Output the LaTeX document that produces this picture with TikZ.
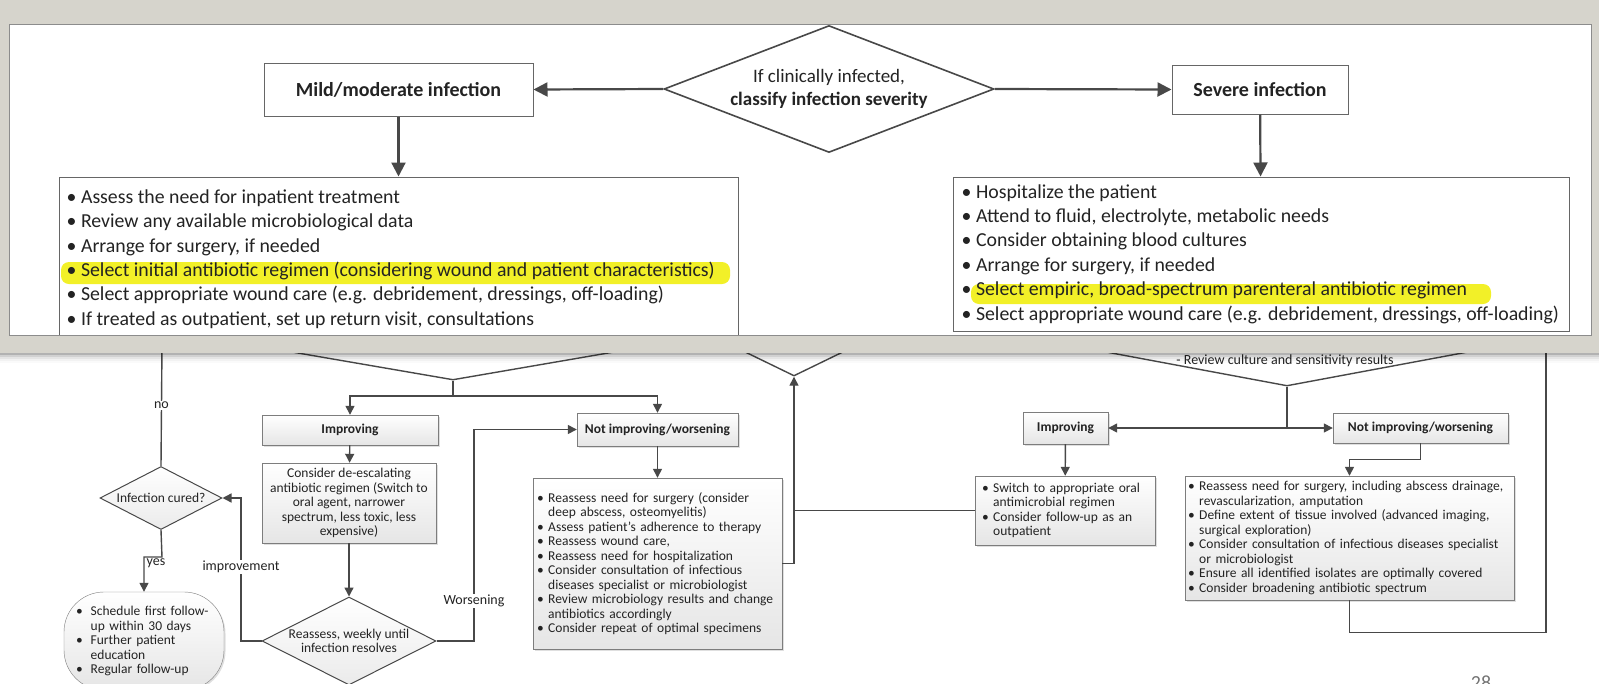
\documentclass[tikz,border=0pt]{standalone}
\usepackage{fontspec}
\setmainfont{Carlito}
\usetikzlibrary{shapes.geometric,arrows.meta,shadows}

\definecolor{lncol}{RGB}{72,72,72}
\definecolor{frmcol}{RGB}{214,212,204}
\definecolor{boxcol}{RGB}{125,125,125}
\definecolor{hlcol}{RGB}{242,240,40}
\definecolor{txtcol}{RGB}{35,35,35}

\newcommand{\smallfnt}{\fontsize{13.5}{14.5}\selectfont}
\newcommand{\bigfnt}{\fontsize{19.8}{24.4}\selectfont}
\newcommand{\blt}{\textbullet\ }
\newcommand{\bind}{\phantom{\textbullet\ }}

\begin{document}
\begin{tikzpicture}[x=1pt,y=-1pt]
	\tikzstyle{box}=[rectangle,draw=boxcol,top color=white,bottom color=black!10,drop shadow={shadow xshift=1.5pt,shadow yshift=-1.5pt,opacity=0.25},inner sep=0,text=txtcol,font=\smallfnt]
	\tikzstyle{dec}=[diamond,draw=lncol,line width=1pt,inner sep=0,aspect=2,text=txtcol,font=\smallfnt,top color=white,bottom color=black!8]
	\tikzstyle{hid}=[diamond,draw=lncol,line width=1.4pt,fill=white,inner sep=0]
	\tikzstyle{line}=[draw=lncol,line width=1.4pt]
	\tikzstyle{edge}=[line,-{Triangle[length=9pt,width=9pt]}]
	\tikzstyle{lbl}=[fill=white,inner sep=1pt,text=txtcol,font=\fontsize{14}{15}\selectfont]
	\tikzstyle{cbox}=[rectangle,draw=black!60,line width=1pt,inner sep=0,text=txtcol]
	\tikzstyle{cdia}=[diamond,draw=lncol,line width=1.6pt,fill=white,inner sep=0,aspect=2.6,text=txtcol,align=center,font=\fontsize{19}{23}\selectfont]
	\tikzstyle{cedge}=[draw=lncol,line width=2.2pt,-{Triangle[length=14pt,width=14pt]}]

	\useasboundingbox (0,0) rectangle (1599,683);

	% flowchart under the callout
	\node[hid,minimum width=694,minimum height=120] (upL) at (453,320) {};
	\node[hid,minimum width=164,minimum height=80] (upM) at (794,336) {};
	\node[hid,minimum width=598,minimum height=112] (upR) at (1287,330) {};
	\node[font=\fontsize{14}{15}\selectfont,text=txtcol] (revtxt) at (1285,361) {- Review culture and sensitivity results};

	\coordinate (splitL) at (453,396);
	\coordinate (splitR) at (1287,428);
	\coordinate (noTop) at (162,345);
	\coordinate (rTop) at (1546,345);

	\node[box,minimum width=176,minimum height=30,font=\smallfnt\bfseries] (impL) at (350,430) {Improving};
	\node[box,minimum width=161,minimum height=33,font=\smallfnt\bfseries] (notL) at (657.5,429.5) {Not improving/worsening};
	\node[box,minimum width=174,minimum height=80,align=center] (deesc) at (349,503) {Consider de-escalating\\antibiotic regimen (Switch to\\oral agent, narrower\\spectrum, less toxic, less\\expensive)};
	\node[dec,inner sep=-3pt,minimum width=174,minimum height=88,align=center] (reassL) at (349,641) {Reassess, weekly until\\infection resolves};
	\node[dec,minimum width=122,minimum height=63] (cured) at (161,498) {Infection cured?};
	\node[box,rounded corners=40,minimum width=160,minimum height=98,text width=136,align=left] (follow) at (144,641) {\textbullet\hspace{8pt}Schedule first follow-\\\phantom{\textbullet\hspace{8pt}}up within 30 days\\\textbullet\hspace{8pt}Further patient\\\phantom{\textbullet\hspace{8pt}}education\\\textbullet\hspace{8pt}Regular follow-up};
	\node[box,minimum width=249,minimum height=171,text width=241,align=left] (midL) at (657.5,563.5) {\blt Reassess need for surgery (consider\\\bind deep abscess, osteomyelitis)\\\blt Assess patient’s adherence to therapy\\\blt Reassess wound care,\\\blt Reassess need for hospitalization\\\blt Consider consultation of infectious\\\bind diseases specialist or microbiologist\\\blt Review microbiology results and change\\\bind antibiotics accordingly\\\blt Consider repeat of optimal specimens};

	\node[box,minimum width=85,minimum height=32,font=\smallfnt\bfseries] (impR) at (1065.5,428) {Improving};
	\node[box,minimum width=175,minimum height=30,font=\smallfnt\bfseries] (notR) at (1420.5,428) {Not improving/worsening};
	\node[box,minimum width=180,minimum height=69,text width=166,align=left] (switchR) at (1065,510.5) {\blt Switch to appropriate oral\\\bind antimicrobial regimen\\\blt Consider follow-up as an\\\bind outpatient};
	\node[box,minimum width=329,minimum height=124,text width=323,align=left] (bigR) at (1349.5,538) {\blt Reassess need for surgery, including abscess drainage,\\\bind revascularization, amputation\\\blt Define extent of tissue involved (advanced imaging,\\\bind surgical exploration)\\\blt Consider consultation of infectious diseases specialist\\\bind or microbiologist\\\blt Ensure all identified isolates are optimally covered\\\blt Consider broadening antibiotic spectrum};

	\draw[line] (upL.south) -- (splitL);
	\draw[edge] (splitL) -| (impL.north);
	\draw[edge] (splitL) -| (notL.north);
	\draw[edge] (impL) -- (deesc);
	\draw[edge] (deesc) -- (reassL);
	\draw[edge] (notL) -- (midL);
	\draw[edge] (reassL.west) -- (241,641) |- node[lbl,pos=0.26]{improvement} (cured.east);
	\draw[edge] (reassL.east) -- (474,641) |- node[lbl,pos=0.095]{Worsening} (notL.west);
	\draw[line] (cured.north) -- node[lbl]{no} (noTop);
	\draw[edge] (cured.south) -- (162,557) -| node[pos=0.5,xshift=12pt,yshift=-6pt,inner sep=0,text=txtcol,font=\fontsize{14}{15}\selectfont]{yes} (follow.north);
	\draw[edge] (midL.east) -| (upM.south);
	\draw[line] (switchR.west) -- (switchR.west -| upM.south);

	\draw[line] (upR.south) -- (splitR);
	\draw[edge] (splitR) -- (impR.east);
	\draw[edge] (splitR) -- (notR.west);
	\draw[edge] (impR) -- (switchR);
	\draw[edge] (notR.south) -- ++(0,16) -| (bigR.north);
	\draw[line] (bigR.south) -- ++(0,32) -| (rTop);

	\node[anchor=north,text=black!55,font=\fontsize{20}{20}\selectfont] (pgnum) at (1481,672) {28};

	% callout frame
	\fill[frmcol] (0,0) rectangle (1599,353);
	\foreach \yy/\op in {353/0.30,355/0.18,357/0.10,359/0.05,361/0.02}
		\fill[black,opacity=\op] (0,\yy) rectangle (1599,\yy+2);
	\fill[white] (9,24) rectangle (1591,335);

	\begin{scope}
		\clip (9,24) rectangle (1591,335);
		\fill[hlcol,rounded corners=8] (61,262) rectangle (730,284);
		\fill[hlcol,rounded corners=8] (971,284) rectangle (1491,304);

		\node[cdia,minimum width=330,minimum height=127] (classify) at (829,89) {If clinically infected,\\\textbf{classify infection severity}};
		\node[cbox,minimum width=269,minimum height=53,font=\fontsize{20}{22}\selectfont\bfseries] (mild) at (398.5,89.5) {Mild/moderate infection};
		\node[cbox,minimum width=176,minimum height=49,font=\fontsize{20}{22}\selectfont\bfseries] (severe) at (1260,89.5) {Severe infection};
		\node[cbox,minimum width=679,minimum height=164] (mildlist) at (398.5,259) {};
		\node[cbox,minimum width=616,minimum height=154] (sevlist) at (1261,254) {};

		\node[anchor=west,align=left,inner sep=0,text=txtcol,font=\bigfnt] (mildtxt) at ([xshift=8pt]mildlist.west) {\blt Assess the need for inpatient treatment\\\blt Review any available microbiological data\\\blt Arrange for surgery, if needed\\\blt Select initial antibiotic regimen (considering wound and patient characteristics)\\\blt Select appropriate wound care (e.g. debridement, dressings, off-loading)\\\blt If treated as outpatient, set up return visit, consultations};
		\node[anchor=west,align=left,inner sep=0,text=txtcol,font=\bigfnt] (sevtxt) at ([xshift=9pt]sevlist.west) {\blt Hospitalize the patient\\\blt Attend to fluid, electrolyte, metabolic needs\\\blt Consider obtaining blood cultures\\\blt Arrange for surgery, if needed\\\blt Select empiric, broad-spectrum parenteral antibiotic regimen\\\blt Select appropriate wound care (e.g. debridement, dressings, off-loading)};

		\draw[cedge] (classify.west) -- (mild.east);
		\draw[cedge] (classify.east) -- (severe.west);
		\draw[cedge] (mild) -- (mildlist);
		\draw[cedge] (severe) -- (sevlist);
	\end{scope}
	\draw[black!45,line width=1pt] (9,24) rectangle (1591,335);
\end{tikzpicture}
\end{document}
